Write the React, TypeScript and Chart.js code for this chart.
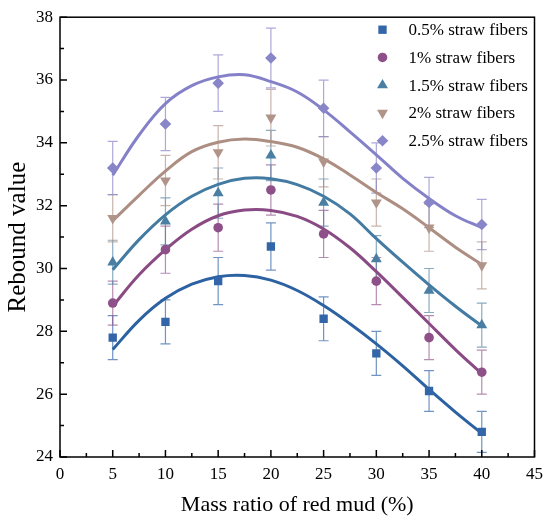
import { useEffect, useRef } from "react";
import { Chart, registerables } from "chart.js";
import { drawPoint } from "chart.js/helpers";

Chart.register(...registerables);

// mass ratio of red mud (%) where samples were measured
const ratios = [5, 10, 15, 20, 25, 30, 35, 40];
const fitRatios = [5, 7.5, 10, 12.5, 15, 17.5, 20, 22.5, 25, 27.5, 30, 32.5, 35, 37.5, 40];

const seriesNames = [
  "0.5% straw fibers",
  "1% straw fibers",
  "1.5% straw fibers",
  "2% straw fibers",
  "2.5% straw fibers",
];

// measured rebound values
const rebound05 = [27.8, 28.3, 29.6, 30.7, 28.4, 27.3, 26.1, 24.8];
const rebound1 = [28.9, 30.6, 31.3, 32.5, 31.1, 29.6, 27.8, 26.7];
const rebound15 = [30.2, 31.5, 32.4, 33.6, 32.1, 30.3, 29.3, 28.2];
const rebound2 = [31.6, 32.8, 33.7, 34.8, 33.4, 32.1, 31.3, 30.1];
const rebound25 = [33.2, 34.6, 35.9, 36.7, 35.1, 33.2, 32.1, 31.4];

// error bar half-heights
const err05 = [0.7, 0.7, 0.75, 0.75, 0.7, 0.7, 0.65, 0.65];
const err1 = [0.7, 0.75, 0.75, 0.8, 0.75, 0.75, 0.7, 0.7];
const err15 = [0.7, 0.75, 0.8, 0.8, 0.75, 0.75, 0.7, 0.7];
const err2 = [0.75, 0.8, 0.85, 0.9, 0.8, 0.75, 0.75, 0.75];
const err25 = [0.85, 0.85, 0.9, 0.95, 0.9, 0.8, 0.8, 0.8];

// fitted curves, read at fitRatios
const fit05 = [27.42, 28.35, 29.05, 29.5, 29.74, 29.78, 29.63, 29.3, 28.82, 28.24, 27.6, 26.9, 26.15, 25.43, 24.75];
const fit1 = [28.8, 29.8, 30.6, 31.25, 31.68, 31.86, 31.85, 31.66, 31.26, 30.66, 29.9, 29.08, 28.25, 27.42, 26.65];
const fit15 = [29.96, 30.92, 31.71, 32.3, 32.68, 32.87, 32.86, 32.67, 32.3, 31.74, 30.95, 30.2, 29.48, 28.8, 28.17];
const fit2 = [31.52, 32.33, 33.1, 33.72, 34.02, 34.12, 34.04, 33.86, 33.49, 32.98, 32.42, 31.9, 31.3, 30.68, 30.13];
const fit25 = [32.97, 34.25, 35.25, 35.82, 36.1, 36.17, 35.95, 35.62, 35.05, 34.35, 33.62, 32.87, 32.23, 31.68, 31.3];

const xTicks = { min: 0, max: 45, step: 5 };
const yTicks = { min: 24, max: 38, step: 2 };

const rebounds = [rebound05, rebound1, rebound15, rebound2, rebound25];
const errors = [err05, err1, err15, err2, err25];
const fits = [fit05, fit1, fit15, fit2, fit25];

const markerColors = ["#3366a8", "#8e5088", "#4a7fa3", "#b0948a", "#8985c9"];
const lineColors = ["#2c62a2", "#8a4b84", "#447ba2", "#ad8e82", "#8581c8"];
const barColors = [
  "rgba(51,102,168,0.7)",
  "rgba(142,80,136,0.65)",
  "rgba(74,127,163,0.65)",
  "rgba(176,148,138,0.7)",
  "rgba(137,133,201,0.7)",
];
const markers = [
  { pointStyle: "rect", rotation: 0, radius: 5.9 },
  { pointStyle: "circle", rotation: 0, radius: 4.8 },
  { pointStyle: "triangle", rotation: 0, radius: 6.3 },
  { pointStyle: "triangle", rotation: 180, radius: 6.3 },
  { pointStyle: "rectRot", rotation: 0, radius: 5.8 },
];

const FONT = "'Liberation Serif', 'Times New Roman', serif";

const errorBars = {
  id: "errorBars",
  beforeDatasetsDraw(chart: any) {
    const { ctx, scales } = chart;
    ctx.save();
    ctx.lineWidth = 1.2;
    chart.data.datasets.forEach((ds: any) => {
      if (!ds.errors) return;
      ctx.strokeStyle = ds.barColor;
      ds.data.forEach((p: any, i: number) => {
        const x = scales.x.getPixelForValue(p.x);
        const y1 = scales.y.getPixelForValue(p.y + ds.errors[i]);
        const y2 = scales.y.getPixelForValue(p.y - ds.errors[i]);
        ctx.beginPath();
        ctx.moveTo(x, y1);
        ctx.lineTo(x, y2);
        ctx.moveTo(x - 5, y1);
        ctx.lineTo(x + 5, y1);
        ctx.moveTo(x - 5, y2);
        ctx.lineTo(x + 5, y2);
        ctx.stroke();
      });
    });
    ctx.restore();
  },
};

const frameTicks = {
  id: "frameTicks",
  afterDraw(chart: any) {
    const { ctx, chartArea: a, scales } = chart;
    ctx.save();
    ctx.strokeStyle = "#000";
    ctx.lineWidth = 1.5;
    ctx.strokeRect(a.left, a.top, a.right - a.left, a.bottom - a.top);
    ctx.beginPath();
    const xt = scales.x.ticks.map((t: any) => t.value);
    xt.forEach((v: number, i: number) => {
      const px = scales.x.getPixelForValue(v);
      ctx.moveTo(px, a.bottom);
      ctx.lineTo(px, a.bottom - 7);
      if (i < xt.length - 1) {
        const mx = scales.x.getPixelForValue((v + xt[i + 1]) / 2);
        ctx.moveTo(mx, a.bottom);
        ctx.lineTo(mx, a.bottom - 4);
      }
    });
    const yt = scales.y.ticks.map((t: any) => t.value);
    yt.forEach((v: number, i: number) => {
      const py = scales.y.getPixelForValue(v);
      ctx.moveTo(a.left, py);
      ctx.lineTo(a.left + 7, py);
      if (i < yt.length - 1) {
        const my = scales.y.getPixelForValue((v + yt[i + 1]) / 2);
        ctx.moveTo(a.left, my);
        ctx.lineTo(a.left + 4, my);
      }
    });
    ctx.stroke();
    ctx.restore();
  },
};

const insideLegend = {
  id: "insideLegend",
  afterDraw(chart: any) {
    const { ctx, chartArea: a } = chart;
    ctx.save();
    ctx.font = `17px ${FONT}`;
    ctx.textBaseline = "middle";
    ctx.textAlign = "left";
    let row = 0;
    chart.data.datasets.forEach((ds: any) => {
      if (!ds.errors) return;
      const y = a.top + 12.5 + row * 27.75;
      ctx.fillStyle = ds.pointBackgroundColor;
      drawPoint(ctx, { pointStyle: ds.pointStyle, rotation: ds.pointRotation, radius: ds.pointRadius, borderWidth: 0 }, a.right - 152, y);
      ctx.fillStyle = "#000";
      ctx.fillText(ds.label, a.right - 126, y + 1);
      row++;
    });
    ctx.restore();
  },
};

export default function App() {
  const chartRef = useRef<HTMLCanvasElement>(null);
  const chartInstance = useRef<Chart | null>(null);

  useEffect(() => {
    document.body.style.margin = "0";
    if (!chartRef.current) return;
    const ctx = chartRef.current.getContext("2d");
    if (!ctx) return;
    if (chartInstance.current) chartInstance.current.destroy();

    const fitSets = fits.map((f, k) => ({
      type: "line" as const,
      label: "fit " + seriesNames[k],
      data: f.map((y, i) => ({ x: fitRatios[i], y })),
      borderColor: lineColors[k],
      borderWidth: 3,
      pointRadius: 0,
      tension: 0.4,
      fill: false,
    }));

    const pointSets = rebounds.map((r, k) => ({
      type: "scatter" as const,
      label: seriesNames[k],
      data: r.map((y, i) => ({ x: ratios[i], y })),
      errors: errors[k],
      barColor: barColors[k],
      showLine: false,
      pointStyle: markers[k].pointStyle,
      pointRotation: markers[k].rotation,
      pointRadius: markers[k].radius,
      pointBorderWidth: 0,
      pointBackgroundColor: markerColors[k],
      backgroundColor: markerColors[k],
      borderColor: markerColors[k],
    }));

    chartInstance.current = new Chart(ctx, {
      type: "scatter",
      data: { datasets: [...pointSets, ...fitSets] as any },
      options: {
        animation: false,
        responsive: true,
        maintainAspectRatio: false,
        layout: { padding: { top: 14, right: 13, left: 0, bottom: 0 } },
        plugins: {
          legend: { display: false },
          tooltip: { enabled: false },
        },
        scales: {
          x: {
            type: "linear",
            min: xTicks.min,
            max: xTicks.max,
            ticks: { stepSize: xTicks.step, color: "#000", padding: 7, font: { family: FONT, size: 17 } },
            grid: { display: false, drawTicks: false },
            border: { display: false },
            title: {
              display: true,
              text: "Mass ratio of red mud (%)",
              color: "#000",
              font: { family: FONT, size: 22 },
              padding: { top: 0, bottom: 5 },
            },
            afterFit: (scale: any) => {
              scale.height = 66;
            },
          },
          y: {
            type: "linear",
            min: yTicks.min,
            max: yTicks.max,
            ticks: { stepSize: yTicks.step, color: "#000", padding: 7, font: { family: FONT, size: 17 } },
            grid: { display: false, drawTicks: false },
            border: { display: false },
            title: {
              display: true,
              text: "Rebound value",
              color: "#000",
              font: { family: FONT, size: 25 },
              padding: { top: 3, bottom: 0 },
            },
            afterFit: (scale: any) => {
              scale.width = 60;
            },
          },
        },
      },
      plugins: [errorBars, frameTicks, insideLegend],
    });

    return () => {
      if (chartInstance.current) {
        chartInstance.current.destroy();
        chartInstance.current = null;
      }
    };
  }, []);

  return (
    <div style={{ position: "relative", width: 550, height: 523, background: "#fff" }}>
      <canvas ref={chartRef}></canvas>
    </div>
  );
}
